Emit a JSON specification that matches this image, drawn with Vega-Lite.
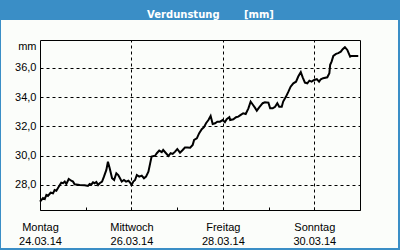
{
  "$schema": "https://vega.github.io/schema/vega-lite/v6.json",
  "width": 397,
  "height": 228,
  "autosize": {"type": "none"},
  "padding": {"left": 1, "top": 20, "right": 2, "bottom": 2},
  "background": "#3A8EC6",
  "view": {"fill": "#FBFDFA", "stroke": null},
  "title": {
    "text": "Verdunstung\u00a0\u00a0\u00a0\u00a0\u00a0\u00a0\u00a0[mm]",
    "font": "DejaVu Sans",
    "fontSize": 10,
    "fontWeight": "bold",
    "color": "#FFFFFF",
    "anchor": "middle",
    "frame": "group",
    "baseline": "alphabetic",
    "offset": 5,
    "dx": 11,
    "dy": 13
  },
  "data": {"values": [
    {"t": "2014-03-24T00:00", "v": 26.86},
    {"t": "2014-03-24T01:35", "v": 27.11},
    {"t": "2014-03-24T02:30", "v": 27.04},
    {"t": "2014-03-24T03:20", "v": 27.32},
    {"t": "2014-03-24T04:10", "v": 27.25},
    {"t": "2014-03-24T05:35", "v": 27.47},
    {"t": "2014-03-24T06:50", "v": 27.43},
    {"t": "2014-03-24T07:40", "v": 27.66},
    {"t": "2014-03-24T08:35", "v": 27.61},
    {"t": "2014-03-24T09:50", "v": 27.88},
    {"t": "2014-03-24T11:10", "v": 28.16},
    {"t": "2014-03-24T12:05", "v": 28.12},
    {"t": "2014-03-24T13:00", "v": 28.23},
    {"t": "2014-03-24T13:50", "v": 28.07},
    {"t": "2014-03-24T15:05", "v": 28.41},
    {"t": "2014-03-24T16:25", "v": 28.29},
    {"t": "2014-03-24T17:20", "v": 28.23},
    {"t": "2014-03-24T18:10", "v": 28.05},
    {"t": "2014-03-24T20:50", "v": 28.00},
    {"t": "2014-03-24T23:30", "v": 27.98},
    {"t": "2014-03-25T01:10", "v": 27.93},
    {"t": "2014-03-25T02:05", "v": 28.07},
    {"t": "2014-03-25T02:55", "v": 28.02},
    {"t": "2014-03-25T03:50", "v": 28.18},
    {"t": "2014-03-25T04:40", "v": 28.12},
    {"t": "2014-03-25T05:35", "v": 28.21},
    {"t": "2014-03-25T06:30", "v": 28.00},
    {"t": "2014-03-25T07:20", "v": 28.12},
    {"t": "2014-03-25T08:35", "v": 28.23},
    {"t": "2014-03-25T09:35", "v": 28.57},
    {"t": "2014-03-25T10:50", "v": 29.03},
    {"t": "2014-03-25T11:40", "v": 29.59},
    {"t": "2014-03-25T12:35", "v": 29.14},
    {"t": "2014-03-25T13:50", "v": 28.46},
    {"t": "2014-03-25T14:55", "v": 28.34},
    {"t": "2014-03-25T16:05", "v": 28.80},
    {"t": "2014-03-25T17:05", "v": 28.68},
    {"t": "2014-03-25T18:00", "v": 28.46},
    {"t": "2014-03-25T18:55", "v": 28.23},
    {"t": "2014-03-25T20:05", "v": 28.34},
    {"t": "2014-03-25T21:10", "v": 28.23},
    {"t": "2014-03-25T22:25", "v": 28.29},
    {"t": "2014-03-25T23:20", "v": 28.16},
    {"t": "2014-03-26T00:05", "v": 28.00},
    {"t": "2014-03-26T01:00", "v": 28.23},
    {"t": "2014-03-26T01:55", "v": 28.34},
    {"t": "2014-03-26T02:50", "v": 28.68},
    {"t": "2014-03-26T04:05", "v": 28.57},
    {"t": "2014-03-26T05:25", "v": 28.64},
    {"t": "2014-03-26T06:35", "v": 28.46},
    {"t": "2014-03-26T07:40", "v": 28.57},
    {"t": "2014-03-26T08:55", "v": 28.91},
    {"t": "2014-03-26T09:50", "v": 29.48},
    {"t": "2014-03-26T10:35", "v": 29.94},
    {"t": "2014-03-26T12:25", "v": 30.00},
    {"t": "2014-03-26T13:20", "v": 30.17},
    {"t": "2014-03-26T14:35", "v": 30.35},
    {"t": "2014-03-26T15:55", "v": 30.24},
    {"t": "2014-03-26T16:40", "v": 30.39},
    {"t": "2014-03-26T18:10", "v": 30.17},
    {"t": "2014-03-26T19:25", "v": 29.98},
    {"t": "2014-03-26T20:35", "v": 30.17},
    {"t": "2014-03-26T21:40", "v": 30.12},
    {"t": "2014-03-26T22:55", "v": 30.28},
    {"t": "2014-03-27T00:05", "v": 30.46},
    {"t": "2014-03-27T01:30", "v": 30.21},
    {"t": "2014-03-27T02:55", "v": 30.39},
    {"t": "2014-03-27T04:05", "v": 30.56},
    {"t": "2014-03-27T05:20", "v": 30.56},
    {"t": "2014-03-27T06:50", "v": 30.55},
    {"t": "2014-03-27T08:10", "v": 30.74},
    {"t": "2014-03-27T08:55", "v": 31.08},
    {"t": "2014-03-27T10:20", "v": 31.19},
    {"t": "2014-03-27T11:35", "v": 31.54},
    {"t": "2014-03-27T12:55", "v": 31.81},
    {"t": "2014-03-27T14:05", "v": 31.95},
    {"t": "2014-03-27T15:10", "v": 32.22},
    {"t": "2014-03-27T16:25", "v": 32.44},
    {"t": "2014-03-27T17:35", "v": 32.72},
    {"t": "2014-03-27T18:40", "v": 32.17},
    {"t": "2014-03-27T19:55", "v": 32.22},
    {"t": "2014-03-27T21:05", "v": 32.33},
    {"t": "2014-03-27T22:30", "v": 32.33},
    {"t": "2014-03-27T23:55", "v": 32.44},
    {"t": "2014-03-28T01:05", "v": 32.29},
    {"t": "2014-03-28T02:00", "v": 32.49},
    {"t": "2014-03-28T03:25", "v": 32.63},
    {"t": "2014-03-28T03:50", "v": 32.44},
    {"t": "2014-03-28T05:30", "v": 32.49},
    {"t": "2014-03-28T06:55", "v": 32.63},
    {"t": "2014-03-28T08:05", "v": 32.67},
    {"t": "2014-03-28T09:25", "v": 32.79},
    {"t": "2014-03-28T10:40", "v": 32.90},
    {"t": "2014-03-28T12:00", "v": 32.85},
    {"t": "2014-03-28T13:25", "v": 33.24},
    {"t": "2014-03-28T14:35", "v": 33.70},
    {"t": "2014-03-28T15:40", "v": 33.50},
    {"t": "2014-03-28T16:55", "v": 33.27},
    {"t": "2014-03-28T17:50", "v": 33.08},
    {"t": "2014-03-28T19:05", "v": 33.30},
    {"t": "2014-03-28T20:55", "v": 33.59},
    {"t": "2014-03-28T22:05", "v": 33.65},
    {"t": "2014-03-28T23:55", "v": 33.63},
    {"t": "2014-03-29T00:50", "v": 33.24},
    {"t": "2014-03-29T02:10", "v": 33.24},
    {"t": "2014-03-29T03:25", "v": 33.35},
    {"t": "2014-03-29T04:35", "v": 33.59},
    {"t": "2014-03-29T05:35", "v": 33.35},
    {"t": "2014-03-29T06:55", "v": 33.35},
    {"t": "2014-03-29T07:40", "v": 33.70},
    {"t": "2014-03-29T09:10", "v": 34.04},
    {"t": "2014-03-29T10:25", "v": 34.38},
    {"t": "2014-03-29T11:35", "v": 34.72},
    {"t": "2014-03-29T13:00", "v": 34.95},
    {"t": "2014-03-29T14:25", "v": 35.06},
    {"t": "2014-03-29T15:35", "v": 35.41},
    {"t": "2014-03-29T16:55", "v": 35.71},
    {"t": "2014-03-29T17:55", "v": 35.36},
    {"t": "2014-03-29T19:05", "v": 35.00},
    {"t": "2014-03-29T20:20", "v": 34.95},
    {"t": "2014-03-29T21:25", "v": 35.13},
    {"t": "2014-03-29T22:35", "v": 35.06},
    {"t": "2014-03-29T23:55", "v": 35.18},
    {"t": "2014-03-30T01:20", "v": 35.23},
    {"t": "2014-03-30T02:30", "v": 35.06},
    {"t": "2014-03-30T03:25", "v": 35.23},
    {"t": "2014-03-30T04:40", "v": 35.30},
    {"t": "2014-03-30T06:50", "v": 35.36},
    {"t": "2014-03-30T07:55", "v": 35.64},
    {"t": "2014-03-30T08:20", "v": 36.21},
    {"t": "2014-03-30T09:05", "v": 36.43},
    {"t": "2014-03-30T10:00", "v": 36.82},
    {"t": "2014-03-30T11:25", "v": 36.96},
    {"t": "2014-03-30T12:35", "v": 37.01},
    {"t": "2014-03-30T13:55", "v": 37.11},
    {"t": "2014-03-30T14:55", "v": 37.28},
    {"t": "2014-03-30T16:05", "v": 37.42},
    {"t": "2014-03-30T17:20", "v": 37.23},
    {"t": "2014-03-30T18:50", "v": 36.77},
    {"t": "2014-03-30T19:35", "v": 36.82},
    {"t": "2014-03-30T23:05", "v": 36.82}
  ]},
  "resolve": {"axis": {"x": "independent", "y": "independent"}},
  "layer": [
    {
      "mark": {"type": "line", "color": "#000000", "strokeWidth": 2},
      "encoding": {
        "x": {
          "field": "t", "type": "temporal",
          "scale": {"domain": [{"year": 2014, "month": 3, "date": 24}, {"year": 2014, "month": 3, "date": 31}], "range": [39, 359]},
          "axis": {
            "orient": "bottom", "offset": -38, "title": null,
            "values": [
              {"year": 2014, "month": 3, "date": 24}, {"year": 2014, "month": 3, "date": 25},
              {"year": 2014, "month": 3, "date": 26}, {"year": 2014, "month": 3, "date": 27},
              {"year": 2014, "month": 3, "date": 28}, {"year": 2014, "month": 3, "date": 29},
              {"year": 2014, "month": 3, "date": 30}, {"year": 2014, "month": 3, "date": 31}
            ],
            "grid": false,
            "domain": true, "domainColor": "#000000", "domainWidth": 1,
            "ticks": true, "tickColor": "#000000", "tickSize": -3, "tickWidth": 1,
            "labelExpr": "(date(datum.value) % 2 == 0 && date(datum.value) < 31) ? [['Sonntag','Montag','Dienstag','Mittwoch','Donnerstag','Freitag','Samstag'][day(datum.value)], timeFormat(datum.value, '%d.%m.%y')] : ''",
            "labelFont": "Liberation Sans", "labelFontSize": 11, "labelColor": "#000000",
            "labelLineHeight": 14, "labelPadding": 14, "labelFlush": false, "labelOverlap": false,
            "labelAlign": "center", "labelBaseline": "top"
          }
        },
        "y": {
          "field": "v", "type": "quantitative",
          "scale": {"domain": [26.29, 37.91], "range": [190, 20], "nice": false, "zero": false},
          "axis": {
            "orient": "left", "offset": -39,
            "title": "mm", "titleAngle": 0, "titleAlign": "right", "titleBaseline": "alphabetic",
            "titleX": -4, "titleY": 29, "titleFont": "Liberation Sans", "titleFontSize": 11,
            "titleFontWeight": "normal", "titleColor": "#000000",
            "values": [28, 30, 32, 34, 36],
            "labelExpr": "replace(format(datum.value, '.1f'), '.', ',')",
            "labelFont": "Liberation Sans", "labelFontSize": 11, "labelColor": "#000000",
            "labelPadding": 4, "labelFlush": false,
            "ticks": false,
            "domain": true, "domainColor": "#000000", "domainWidth": 1,
            "grid": true, "gridColor": "#000000", "gridDash": [3, 3], "gridWidth": 1, "gridOpacity": 1
          }
        }
      }
    },
    {
      "mark": {"type": "line", "opacity": 0},
      "encoding": {
        "x": {
          "field": "t", "type": "temporal",
          "axis": {
            "orient": "top", "offset": -20, "title": null, "labels": false, "ticks": false,
            "values": [
              {"year": 2014, "month": 3, "date": 26}, {"year": 2014, "month": 3, "date": 28},
              {"year": 2014, "month": 3, "date": 30}
            ],
            "domain": true, "domainColor": "#000000", "domainWidth": 1,
            "grid": true, "gridColor": "#000000", "gridDash": [3, 3], "gridWidth": 1, "gridOpacity": 1
          }
        },
        "y": {
          "field": "v", "type": "quantitative",
          "axis": {
            "orient": "right", "offset": -38, "title": null, "labels": false, "ticks": false,
            "grid": false, "domain": true, "domainColor": "#000000", "domainWidth": 1
          }
        }
      }
    }
  ]
}
